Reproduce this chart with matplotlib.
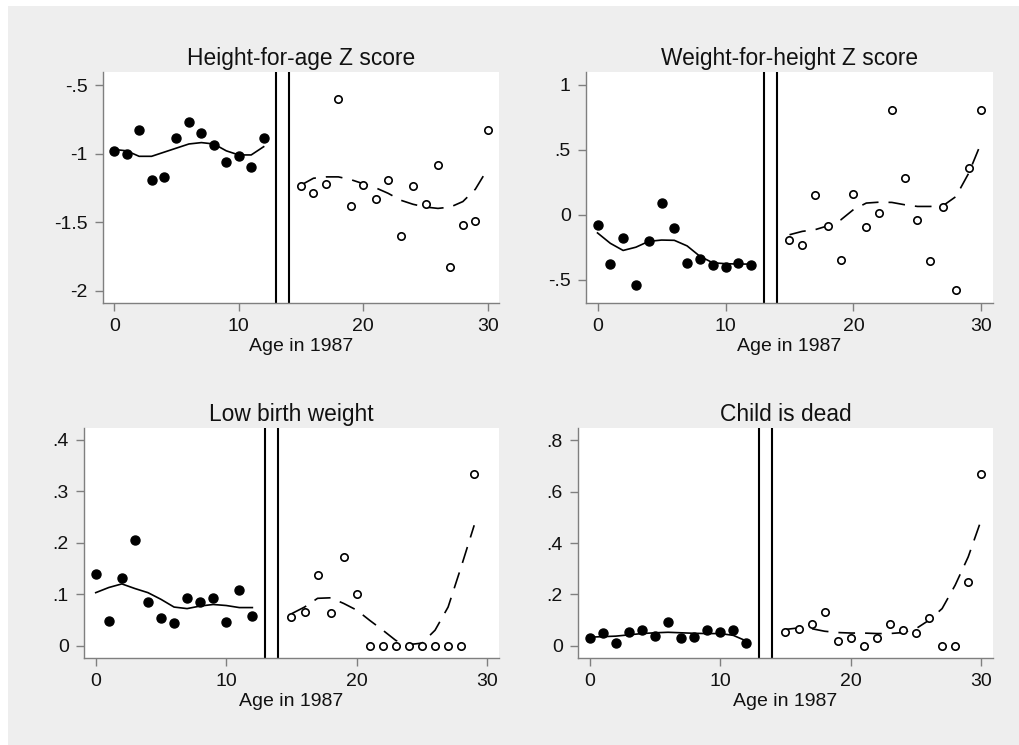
import matplotlib
matplotlib.use("Agg")
from matplotlib import pyplot as plt
from matplotlib.patches import Rectangle
import numpy as np

plt.rcParams['font.family'] = ['Liberation Sans', 'DejaVu Sans']

# wiek w 1987
age_young = list(range(0, 13))
age_old = list(range(15, 31))
age_old_lbw = list(range(15, 30))

# Height-for-age Z score
haz_pts_young = [-0.98, -1.00, -0.83, -1.19, -1.17, -0.89, -0.77, -0.85, -0.94, -1.06, -1.02, -1.10, -0.89]
haz_fit_young = [-0.97, -0.98, -1.02, -1.02, -0.99, -0.96, -0.93, -0.92, -0.93, -0.98, -1.01, -1.01, -0.95]
haz_pts_old = [-1.24, -1.29, -1.22, -0.60, -1.38, -1.23, -1.33, -1.19, -1.60, -1.24, -1.37, -1.08, -1.83, -1.52, -1.49, -0.83]
haz_fit_old = [-1.23, -1.18, -1.17, -1.17, -1.19, -1.22, -1.25, -1.29, -1.34, -1.37, -1.39, -1.40, -1.39, -1.35, -1.26, -1.11]

# Weight-for-height Z score
whz_pts_young = [-0.08, -0.38, -0.18, -0.54, -0.20, 0.09, -0.10, -0.37, -0.34, -0.39, -0.40, -0.37, -0.39]
whz_fit_young = [-0.14, -0.22, -0.275, -0.25, -0.205, -0.195, -0.197, -0.24, -0.32, -0.37, -0.377, -0.38, -0.38]
whz_pts_old = [-0.195, -0.233, 0.154, -0.087, -0.35, 0.159, -0.092, 0.013, 0.81, 0.28, -0.044, -0.36, 0.06, -0.58, 0.364, 0.805]
whz_fit_old = [-0.154, -0.128, -0.115, -0.085, -0.04, 0.04, 0.09, 0.097, 0.095, 0.077, 0.064, 0.064, 0.07, 0.14, 0.32, 0.56]

# Low birth weight
lbw_pts_young = [0.14, 0.048, 0.132, 0.205, 0.085, 0.053, 0.0435, 0.092, 0.084, 0.0935, 0.045, 0.109, 0.058]
lbw_fit_young = [0.103, 0.113, 0.12, 0.111, 0.103, 0.09, 0.075, 0.072, 0.077, 0.08, 0.078, 0.074, 0.074]
lbw_pts_old = [0.0565, 0.066, 0.138, 0.063, 0.172, 0.10, 0, 0, 0, 0, 0, 0, 0, 0, 0.334]
lbw_fit_old = [0.062, 0.075, 0.092, 0.093, 0.082, 0.069, 0.049, 0.03, 0.01, 0.002, 0.005, 0.03, 0.075, 0.153, 0.234]

# Child is dead
dead_pts_young = [0.031, 0.052, 0.012, 0.053, 0.06, 0.038, 0.092, 0.031, 0.034, 0.06, 0.053, 0.062, 0.012]
dead_fit_young = [0.034, 0.036, 0.038, 0.043, 0.048, 0.051, 0.053, 0.051, 0.049, 0.048, 0.048, 0.041, 0.019]
dead_pts_old = [0.056, 0.065, 0.086, 0.13, 0.021, 0.03, 0, 0.03, 0.086, 0.061, 0.05, 0.11, 0, 0, 0.25, 0.668]
dead_fit_old = [0.064, 0.07, 0.067, 0.057, 0.052, 0.05, 0.05, 0.048, 0.048, 0.052, 0.067, 0.10, 0.145, 0.236, 0.346, 0.49]

titles = ["Height-for-age Z score", "Weight-for-height Z score", "Low birth weight", "Child is dead"]
xlabel = "Age in 1987"
x_ticks = [0, 10, 20, 30]
y_ticks = [[-0.5, -1, -1.5, -2], [1, 0.5, 0, -0.5], [0.4, 0.3, 0.2, 0.1, 0], [0.8, 0.6, 0.4, 0.2, 0]]
y_ticklabels = [["-.5", "-1", "-1.5", "-2"], ["1", ".5", "0", "-.5"],
                [".4", ".3", ".2", ".1", "0"], [".8", ".6", ".4", ".2", "0"]]
cutoffs = [13, 14]

# Parametry wyświetlania
W, H = 1020, 745
bg = "#eeeeee"
spine_col = "#7f7f7f"

fig = plt.figure(figsize=(W / 100, H / 100), dpi=100, facecolor="white")
fig.patches.append(Rectangle((8 / W, 0), 1 - 8 / W, 1 - 6 / H, transform=fig.transFigure,
                             facecolor=bg, edgecolor="none", zorder=-10))

# pozycje paneli w pikselach: left, top, right, bottom
boxes = [(103, 72, 499, 303), (586, 72, 993, 303), (84, 428, 499, 658), (578, 428, 993, 658)]
ylims = [(-2.09, -0.405), (-0.68, 1.10), (-0.024, 0.423), (-0.047, 0.847)]

panels = [
    (haz_pts_young, haz_fit_young, haz_pts_old, haz_fit_old, age_old),
    (whz_pts_young, whz_fit_young, whz_pts_old, whz_fit_old, age_old),
    (lbw_pts_young, lbw_fit_young, lbw_pts_old, lbw_fit_old, age_old_lbw),
    (dead_pts_young, dead_fit_young, dead_pts_old, dead_fit_old, age_old),
]

for i, (py, fy, po, fo, ages_o) in enumerate(panels):
    l, t, r, b = boxes[i]
    ax = fig.add_axes([l / W, 1 - b / H, (r - l) / W, (b - t) / H])
    ax.set_facecolor("white")

    ax.plot(age_young, fy, color="black", lw=1.2, zorder=2)
    ax.plot(ages_o, fo, color="black", lw=1.2, dashes=(10, 6), zorder=2)
    ax.plot(age_young, py, "o", color="black", ms=6.5, zorder=3)
    ax.plot(ages_o, po, "o", mfc="white", mec="black", mew=1.2, ms=5.3, zorder=3)
    for c in cutoffs:
        ax.axvline(c, color="black", lw=1.5, zorder=1)

    ax.set_xlim(-0.9, 30.9)
    ax.set_ylim(*ylims[i])
    ax.set_xticks(x_ticks)
    ax.set_yticks(y_ticks[i])
    ax.set_yticklabels(y_ticklabels[i])
    ax.set_title(titles[i], fontsize=16.4, color="#111111", pad=5)
    ax.set_xlabel(xlabel, fontsize=14, color="#111111", labelpad=2)

    for s in ["top", "right"]:
        ax.spines[s].set_visible(False)
    for s in ["left", "bottom"]:
        ax.spines[s].set_color(spine_col)
        ax.spines[s].set_linewidth(1.0)
    ax.tick_params(direction="out", length=6, width=1, color=spine_col,
                   labelsize=14, labelcolor="#111111", pad=5)

fig.savefig("out.png", dpi=100, facecolor=fig.get_facecolor())
